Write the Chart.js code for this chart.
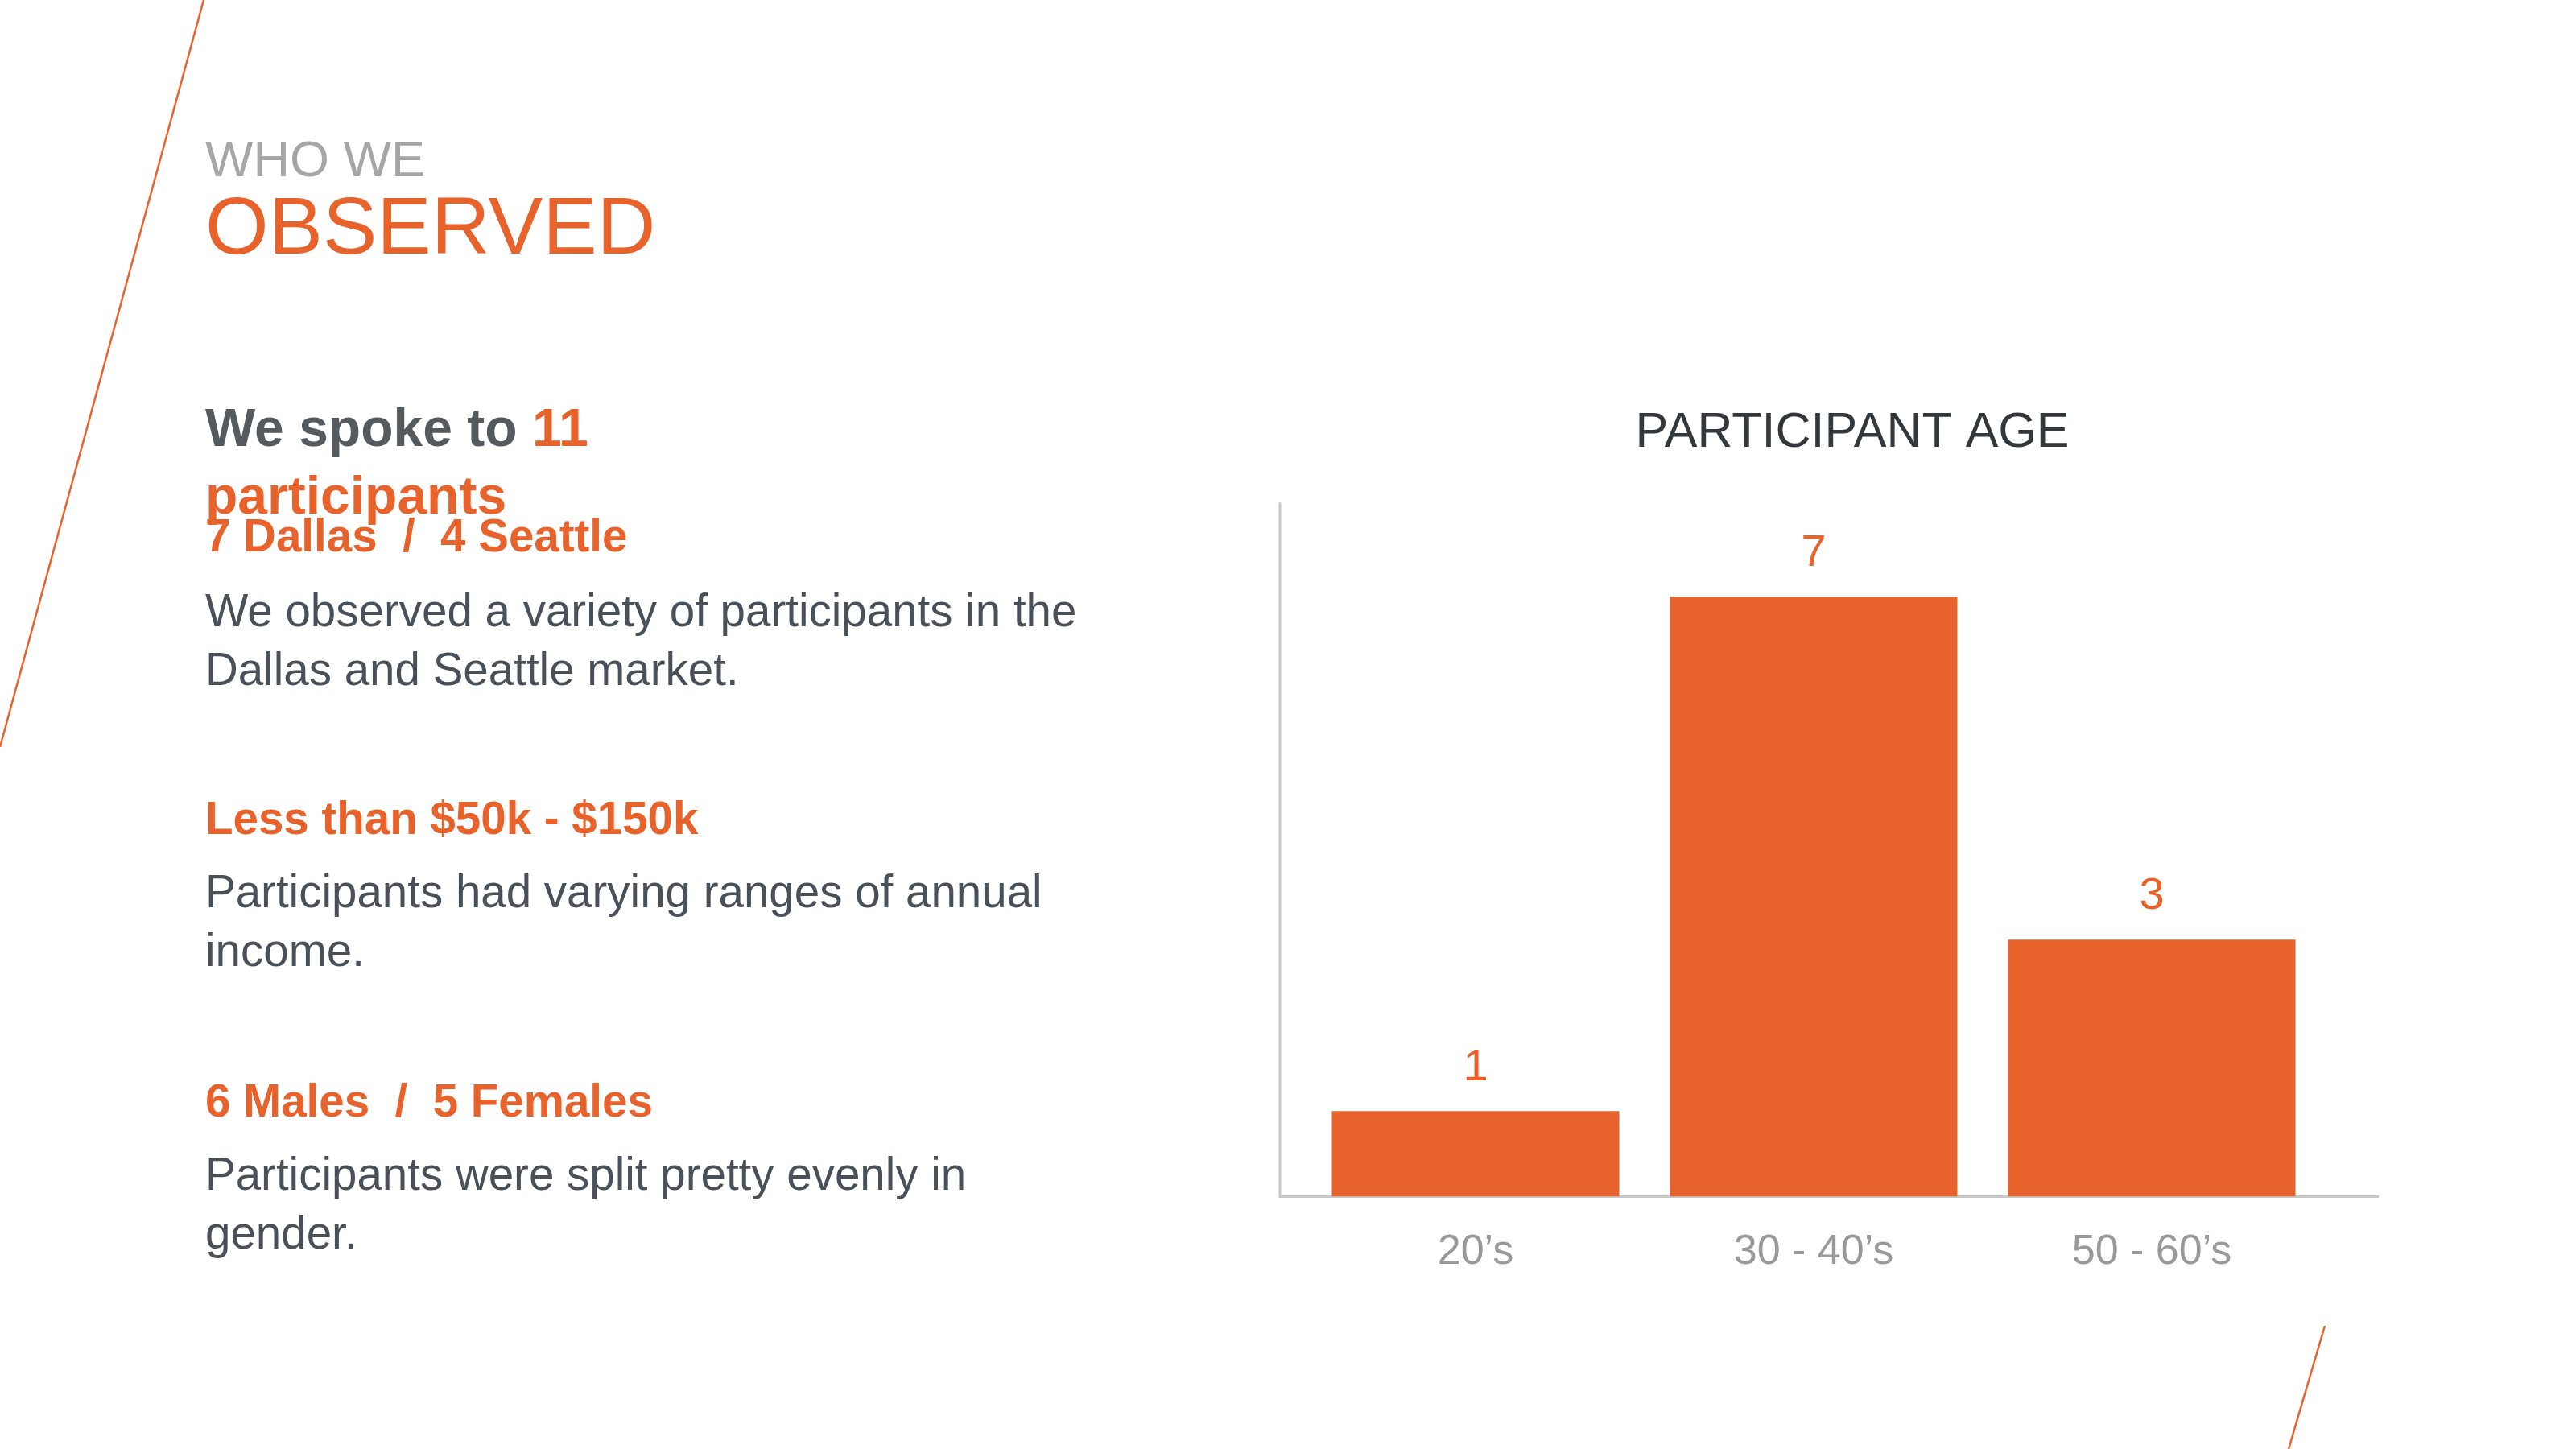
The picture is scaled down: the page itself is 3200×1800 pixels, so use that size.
<!DOCTYPE html>
<html>
<head>
<meta charset="utf-8">
<script src="https://cdn.jsdelivr.net/npm/chart.js@4.4.1/dist/chart.umd.min.js"></script>
<style>
  html, body { margin: 0; padding: 0; background: #fff; }
  body { width: 3200px; height: 1800px; position: relative; overflow: hidden;
         font-family: "Liberation Sans", Arial, Helvetica, sans-serif; }
  .t { position: absolute; left: 255px; white-space: nowrap; margin: 0; }
  .orange { color: #e8622c; }
  #who { top: 166px; font-size: 63px; line-height: 63px; color: #a6a6a6; }
  #observed { top: 229px; font-size: 101px; line-height: 102px; color: #e8622c; }
  #spoke { top: 489px; font-size: 66px; line-height: 84px; font-weight: bold; color: #555a5e; }
  .sub { font-size: 56.5px; line-height: 56px; font-weight: bold; color: #e8622c; }
  .body { font-size: 56.5px; line-height: 73px; color: #4a5058; }
  #deco { position: absolute; left: 0; top: 0; }
  #wrap { position: absolute; left: 1500px; top: 480px; width: 1600px; height: 1150px; }
</style>
</head>
<body>
<svg id="deco" width="3200" height="1800">
  <line x1="253" y1="0" x2="0" y2="928" stroke="#e8622c" stroke-width="2.5"/>
  <line x1="2888" y1="1647" x2="2843" y2="1800" stroke="#e8622c" stroke-width="2.5"/>
</svg>

<div class="t" id="who">WHO WE</div>
<div class="t" id="observed">OBSERVED</div>
<div class="t" id="spoke">We spoke to <span class="orange">11<br>participants</span></div>
<div class="t sub" style="top:638px">7 Dallas &nbsp;/ &nbsp;4 Seattle</div>
<div class="t body" style="top:722px">We observed a variety of participants in the<br>Dallas and Seattle market.</div>
<div class="t sub" style="top:989px">Less than $50k - $150k</div>
<div class="t body" style="top:1071px">Participants had varying ranges of annual<br>income.</div>
<div class="t sub" style="top:1340px">6 Males &nbsp;/ &nbsp;5 Females</div>
<div class="t body" style="top:1422px">Participants were split pretty evenly in<br>gender.</div>

<div id="wrap"><canvas id="ageChart"></canvas></div>

<script>
const ageGroups = ["20\u2019s", "30 - 40\u2019s", "50 - 60\u2019s"];
const participantCounts = [1, 7, 3];

const ORANGE = "#e8622c";
const AXIS_GRAY = "#c8c8c8";

// value labels above bars
const barValueLabels = {
  id: "barValueLabels",
  afterDatasetsDraw(chart) {
    const ctx = chart.ctx;
    const meta = chart.getDatasetMeta(0);
    ctx.save();
    ctx.fillStyle = ORANGE;
    ctx.font = "56px 'Liberation Sans', Arial, sans-serif";
    ctx.textAlign = "center";
    ctx.textBaseline = "alphabetic";
    meta.data.forEach((bar, i) => {
      ctx.fillText(String(participantCounts[i]), bar.x, bar.y - 38);
    });
    ctx.restore();
  }
};

// axis lines sit a little outside the bar area, like the slide
const axisLines = {
  id: "axisLines",
  beforeDatasetsDraw(chart) {
    const { ctx, chartArea } = chart;
    const left = chartArea.left - 33;
    const right = chartArea.right + 72;
    ctx.save();
    ctx.strokeStyle = AXIS_GRAY;
    ctx.lineWidth = 3;
    ctx.beginPath();
    ctx.moveTo(left, chartArea.top);
    ctx.lineTo(left, chartArea.bottom);
    ctx.lineTo(right, chartArea.bottom);
    ctx.stroke();
    ctx.restore();
  }
};

new Chart(document.getElementById("ageChart"), {
  type: "bar",
  data: {
    labels: ageGroups,
    datasets: [{
      data: participantCounts,
      backgroundColor: ORANGE,
      borderWidth: 0,
      barPercentage: 0.85,
      categoryPercentage: 1.0
    }]
  },
  options: {
    responsive: true,
    maintainAspectRatio: false,
    animation: false,
    layout: { padding: { left: 123, right: 121, top: 0, bottom: 13 } },
    plugins: {
      legend: { display: false },
      tooltip: { enabled: false },
      title: {
        display: true,
        text: "PARTICIPANT AGE",
        color: "#33383c",
        font: { family: "'Liberation Sans', Arial, sans-serif", size: 61, weight: "normal" },
        padding: { top: 22, bottom: 49 }
      }
    },
    scales: {
      x: {
        grid: { display: false },
        border: { display: false },
        ticks: {
          color: "#999999",
          padding: 30,
          font: { family: "'Liberation Sans', Arial, sans-serif", size: 52 }
        }
      },
      y: {
        position: "right",
        min: 0,
        max: 8.1,
        grid: { display: false },
        border: { display: false },
        ticks: { display: false },
        afterFit(scale) { scale.width = 96; }
      }
    }
  },
  plugins: [barValueLabels, axisLines]
});
</script>
</body>
</html>
